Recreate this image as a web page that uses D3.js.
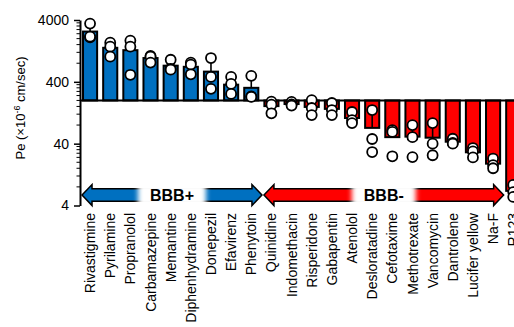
<!DOCTYPE html>
<html>
<head>
<meta charset="utf-8">
<script src="https://cdn.jsdelivr.net/npm/d3@7"></script>
<style>
  html, body { margin: 0; padding: 0; background: #fff; overflow: hidden; }
  svg { display: block; }
  text { font-family: Arial, "Liberation Sans", sans-serif; fill: #000; }
</style>
</head>
<body>
<svg id="chart" width="514" height="327"></svg>
<script>
// ---- data ----
const categories = ["Rivastigmine","Pyrilamine","Propranolol","Carbamazepine","Memantine",
  "Diphenhydramine","Donepezil","Efavirenz","Phenytoin","Quinidine","Indomethacin",
  "Risperidone","Gabapentin","Atenolol","Desloratadine","Cefotaxime","Methotrexate",
  "Vancomycin","Dantrolene","Lucifer yellow","Na-F","R123"];
const groups = ["BBB+","BBB+","BBB+","BBB+","BBB+","BBB+","BBB+","BBB+","BBB+",
  "BBB-","BBB-","BBB-","BBB-","BBB-","BBB-","BBB-","BBB-","BBB-","BBB-","BBB-","BBB-","R"];
const means = [2600, 1420, 1300, 970, 730, 700, 585, 360, 320,
  162, 175, 157, 146, 104, 72, 51, 52, 50, 43, 29, 19, 6.9];
const sds = [790, 356, 691, 125, 156, 153, 344, 112, 156,
  34, 12, 44, 33, 23, 60, 23, 28, 31, 4, 5, 3.6, 1.6];
const points = [
  [3500, 2100, 2150], [1720, 1480, 1020], [1860, 1480, 520], [1050, 1020, 820],
  [910, 650, 630], [820, 760, 530], [970, 480, 308], [480, 370, 255], [500, 232, 228],
  [191, 171, 124], [189, 172, 165], [203, 151, 116], [182, 140, 116], [130, 96, 86],
  [140, 47.6, 29.3], [66, 62, 25], [80, 51, 24.3], [86, 40, 26], [48, 41, 40],
  [34, 30, 24], [23, 18, 16], [8.6, 6.6, 5.5]
];
const yTicks = [4, 40, 400, 4000];
const baselineValue = 200;
const yLabel = ["Pe (\u00D710", "-6", " cm/sec)"];

// ---- layout ----
const svg = d3.select("#chart");
const axisX = 80;
const x = d3.scaleBand().domain(categories)
  .range([axisX, axisX + categories.length * 20.15])
  .paddingInner(0.3).paddingOuter(0.15);
const y = d3.scaleLog().domain([4, 4000]).range([205.5, 20]);
const cx = c => x(c) + x.bandwidth() / 2;
const colorOf = g => g === "BBB+" ? "#0070C0" : "#FF0000";

// bars
svg.append("g").selectAll("rect").data(categories).join("rect")
  .attr("x", c => x(c))
  .attr("width", x.bandwidth())
  .attr("y", (c, i) => Math.min(y(means[i]), y(baselineValue)))
  .attr("height", (c, i) => Math.abs(y(means[i]) - y(baselineValue)))
  .attr("fill", (c, i) => colorOf(groups[i]))
  .attr("stroke", "#000").attr("stroke-width", 2);

// baseline
svg.append("line")
  .attr("x1", axisX).attr("x2", 514)
  .attr("y1", y(baselineValue)).attr("y2", y(baselineValue))
  .attr("stroke", "#000").attr("stroke-width", 2);

// error bars (mean -> mean + SD)
svg.append("g").selectAll("line").data(categories).join("line")
  .attr("x1", c => cx(c)).attr("x2", c => cx(c))
  .attr("y1", (c, i) => y(means[i]))
  .attr("y2", (c, i) => y(means[i] + sds[i]))
  .attr("stroke", "#000").attr("stroke-width", 1.6);

// points
const pts = [];
categories.forEach((c, i) => points[i].forEach(v => pts.push({c, v})));
svg.append("g").selectAll("circle").data(pts).join("circle")
  .attr("cx", d => cx(d.c)).attr("cy", d => y(d.v)).attr("r", 5)
  .attr("fill", "#fff").attr("stroke", "#000").attr("stroke-width", 1.8);

// y axis
const yAxis = d3.axisLeft(y).tickValues(yTicks).tickFormat(d3.format("d"))
  .tickSizeInner(6).tickSizeOuter(0).tickPadding(5);
const gy = svg.append("g").attr("transform", `translate(${axisX},0)`).call(yAxis);
gy.select(".domain").attr("stroke-width", 2);
gy.selectAll(".tick line").attr("stroke-width", 1.5);
gy.selectAll(".tick text").style("font-size", "14px")
  .style("font-family", "Arial, 'Liberation Sans', sans-serif");
// minor ticks
const minor = [];
yTicks.slice(0, -1).forEach(t => { for (let k = 2; k <= 9; k++) minor.push(t * k); });
svg.append("g").selectAll("line").data(minor).join("line")
  .attr("x1", axisX - 3.5).attr("x2", axisX)
  .attr("y1", d => y(d)).attr("y2", d => y(d))
  .attr("stroke", "#000").attr("stroke-width", 1);

// y label
const yl = svg.append("text")
  .attr("transform", "translate(25,108) rotate(-90)")
  .attr("text-anchor", "middle").style("font-size", "13px");
yl.append("tspan").text(yLabel[0]);
yl.append("tspan").text(yLabel[1]).attr("dy", -5).style("font-size", "9px");
yl.append("tspan").text(yLabel[2]).attr("dy", 5);

// category labels
svg.append("g").selectAll("text").data(categories).join("text")
  .attr("transform", c => `translate(${cx(c)},213) rotate(-90)`)
  .attr("text-anchor", "end").attr("dy", "0.36em")
  .style("font-size", "14px")
  .text(c => c);

// arrows
const defs = svg.append("defs");
defs.append("filter").attr("id", "glow").attr("x", "-30%").attr("y", "-50%")
  .attr("width", "160%").attr("height", "200%")
  .append("feGaussianBlur").attr("stdDeviation", 2.5);

function arrow(x0, x1, yc, fill, label) {
  const h = 10, H = 10.5, s = 6.2;
  const p = [[x0, yc], [x0 + h, yc - H], [x0 + h, yc - s], [x1 - h, yc - s], [x1 - h, yc - H],
    [x1, yc], [x1 - h, yc + H], [x1 - h, yc + s], [x0 + h, yc + s], [x0 + h, yc + H]];
  svg.append("path").attr("d", "M" + p.map(q => q.join(",")).join("L") + "Z")
    .attr("fill", fill).attr("stroke", "#000").attr("stroke-width", 1.5)
    .attr("stroke-linejoin", "miter");
  const mid = (x0 + x1) / 2;
  const t = svg.append("text").attr("x", mid).attr("y", yc + 6)
    .attr("text-anchor", "middle").style("font-size", "16px").style("font-weight", "bold")
    .text(label);
  const w = t.node().getComputedTextLength();
  svg.insert("rect", function () { return t.node(); })
    .attr("x", mid - w / 2 - 12).attr("width", w + 24)
    .attr("y", yc - 11.5).attr("height", 23)
    .attr("fill", "#fff").attr("filter", "url(#glow)");
}
const splitBlue = (cx("Phenytoin") + cx("Quinidine")) / 2;
const splitEnd = (cx("Na-F") + cx("R123")) / 2;
arrow(x(categories[0]) - 1, splitBlue + 0.6, 195, "#0070C0", "BBB+");
arrow(splitBlue + 2.6, splitEnd + 0.5, 195, "#FF0000", "BBB-");
</script>
</body>
</html>
